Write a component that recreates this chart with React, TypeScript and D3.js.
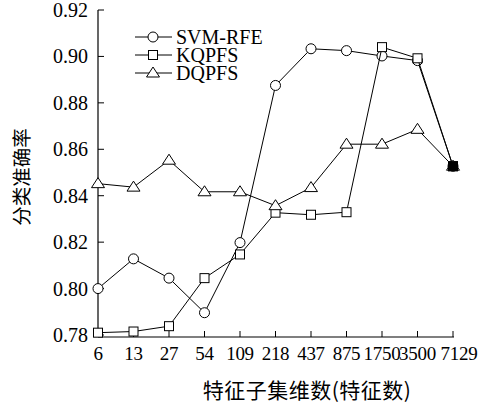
import React from "react";
import * as d3 from "d3";

const categories = ["6", "13", "27", "54", "109", "218", "437", "875", "1750", "3500", "7129"];
const svmRfe = [0.8, 0.8128, 0.8045, 0.7896, 0.8198, 0.8875, 0.9033, 0.9025, 0.9002, 0.8982, 0.8527];
const kqpfs = [0.781, 0.7815, 0.7838, 0.8045, 0.8147, 0.8327, 0.8318, 0.8329, 0.9040, 0.8992, 0.8527];
const dqpfs = [0.8452, 0.8437, 0.8553, 0.8417, 0.8417, 0.8357, 0.8435, 0.8622, 0.8622, 0.8686, 0.8527];
const yTicks = [0.78, 0.8, 0.82, 0.84, 0.86, 0.88, 0.9, 0.92];

const FONT = "'Liberation Serif', 'Times New Roman', serif";
const CJK = "'Noto Sans CJK SC', sans-serif";

const Marker = ({kind, x, y, fill = "white"}: {kind: string; x: number; y: number; fill?: string}) => {
  if (kind === "circle")
    return <circle cx={x} cy={y} r={5} fill={fill} stroke="black" strokeWidth={1}/>;
  if (kind === "square")
    return <rect x={x - 4.5} y={y - 4.5} width={9} height={9} fill={fill} stroke="black" strokeWidth={1}/>;
  return (
    <path
      d={`M${x},${y - 6}L${x + 6.5},${y + 4}L${x - 6.5},${y + 4}Z`}
      fill={fill}
      stroke="black"
      strokeWidth={1}
    />
  );
};

const App = () => {
  const x = d3.scalePoint<string>().domain(categories).range([98, 453]);
  const y = d3.scaleLinear().domain([0.78, 0.92]).range([335, 10]);
  const line = d3
    .line<number>()
    .x((_, i) => x(categories[i]) as number)
    .y(d => y(d));

  const series = [
    {name: "SVM-RFE", values: svmRfe, kind: "circle"},
    {name: "KQPFS", values: kqpfs, kind: "square"},
    {name: "DQPFS", values: dqpfs, kind: "triangle"},
  ];
  // where all series meet, the stacked markers print as a dark blob
  const shared = categories.map((_, i) => svmRfe[i] === kqpfs[i] && kqpfs[i] === dqpfs[i]);

  const x0 = 98;
  const yBottom = 337;
  const last = categories[categories.length - 1];

  return (
    <svg width={491} height={408} style={{position: "absolute", left: 0, top: 0, background: "white"}}>
      {/* axes */}
      <line x1={x0} x2={x0} y1={y(0.92)} y2={yBottom} stroke="black" strokeWidth={1.2}/>
      <line x1={x0} x2={454} y1={yBottom} y2={yBottom} stroke="black" strokeWidth={1.2}/>
      {yTicks.map(t => (
        <g key={t}>
          <line x1={x0} x2={x0 + 6} y1={y(t)} y2={y(t)} stroke="black"/>
          <text x={88} y={y(t)} dy="0.35em" textAnchor="end" fontFamily={FONT} fontSize={20}>
            {t.toFixed(2)}
          </text>
        </g>
      ))}
      {categories.map(c => (
        <g key={c}>
          <line x1={x(c)} x2={x(c)} y1={yBottom} y2={yBottom - 6} stroke="black"/>
          <text x={(x(c) as number) + (c === last ? 6 : 0)} y={yBottom + 23} textAnchor="middle"
                fontFamily={FONT} fontSize={19} letterSpacing={-0.3}>
            {c}
          </text>
        </g>
      ))}
      <text
        transform={`translate(29,${177}) rotate(-90)`}
        textAnchor="middle"
        fontFamily={CJK}
        fontSize={19.5}
      >
        分类准确率
      </text>
      <text x={307} y={398} textAnchor="middle" fontFamily={CJK} fontSize={21} letterSpacing={0.5}>
        特征子集维数(特征数)
      </text>

      {/* lines */}
      {series.map(s => (
        <g key={s.name}>
          <path d={line(s.values) || ""} fill="none" stroke="black" strokeWidth={1}/>
          {s.values.map((v, i) => (
            <Marker key={i} kind={s.kind} x={x(categories[i]) as number} y={y(v)}/>
          ))}
        </g>
      ))}
      {categories.map((c, i) =>
        shared[i] ? <Marker key={c} kind="square" x={x(c) as number} y={y(kqpfs[i])} fill="black"/> : null
      )}

      {/* legend */}
      {series.map((s, i) => {
        const ly = 37 + i * 18;
        return (
          <g key={s.name}>
            <line x1={135} x2={172} y1={ly} y2={ly} stroke="black"/>
            <Marker kind={s.kind} x={153} y={ly}/>
            <text x={176} y={ly} dy="0.35em" fontFamily={FONT} fontSize={20}>
              {s.name}
            </text>
          </g>
        );
      })}
    </svg>
  );
};

export default App;
